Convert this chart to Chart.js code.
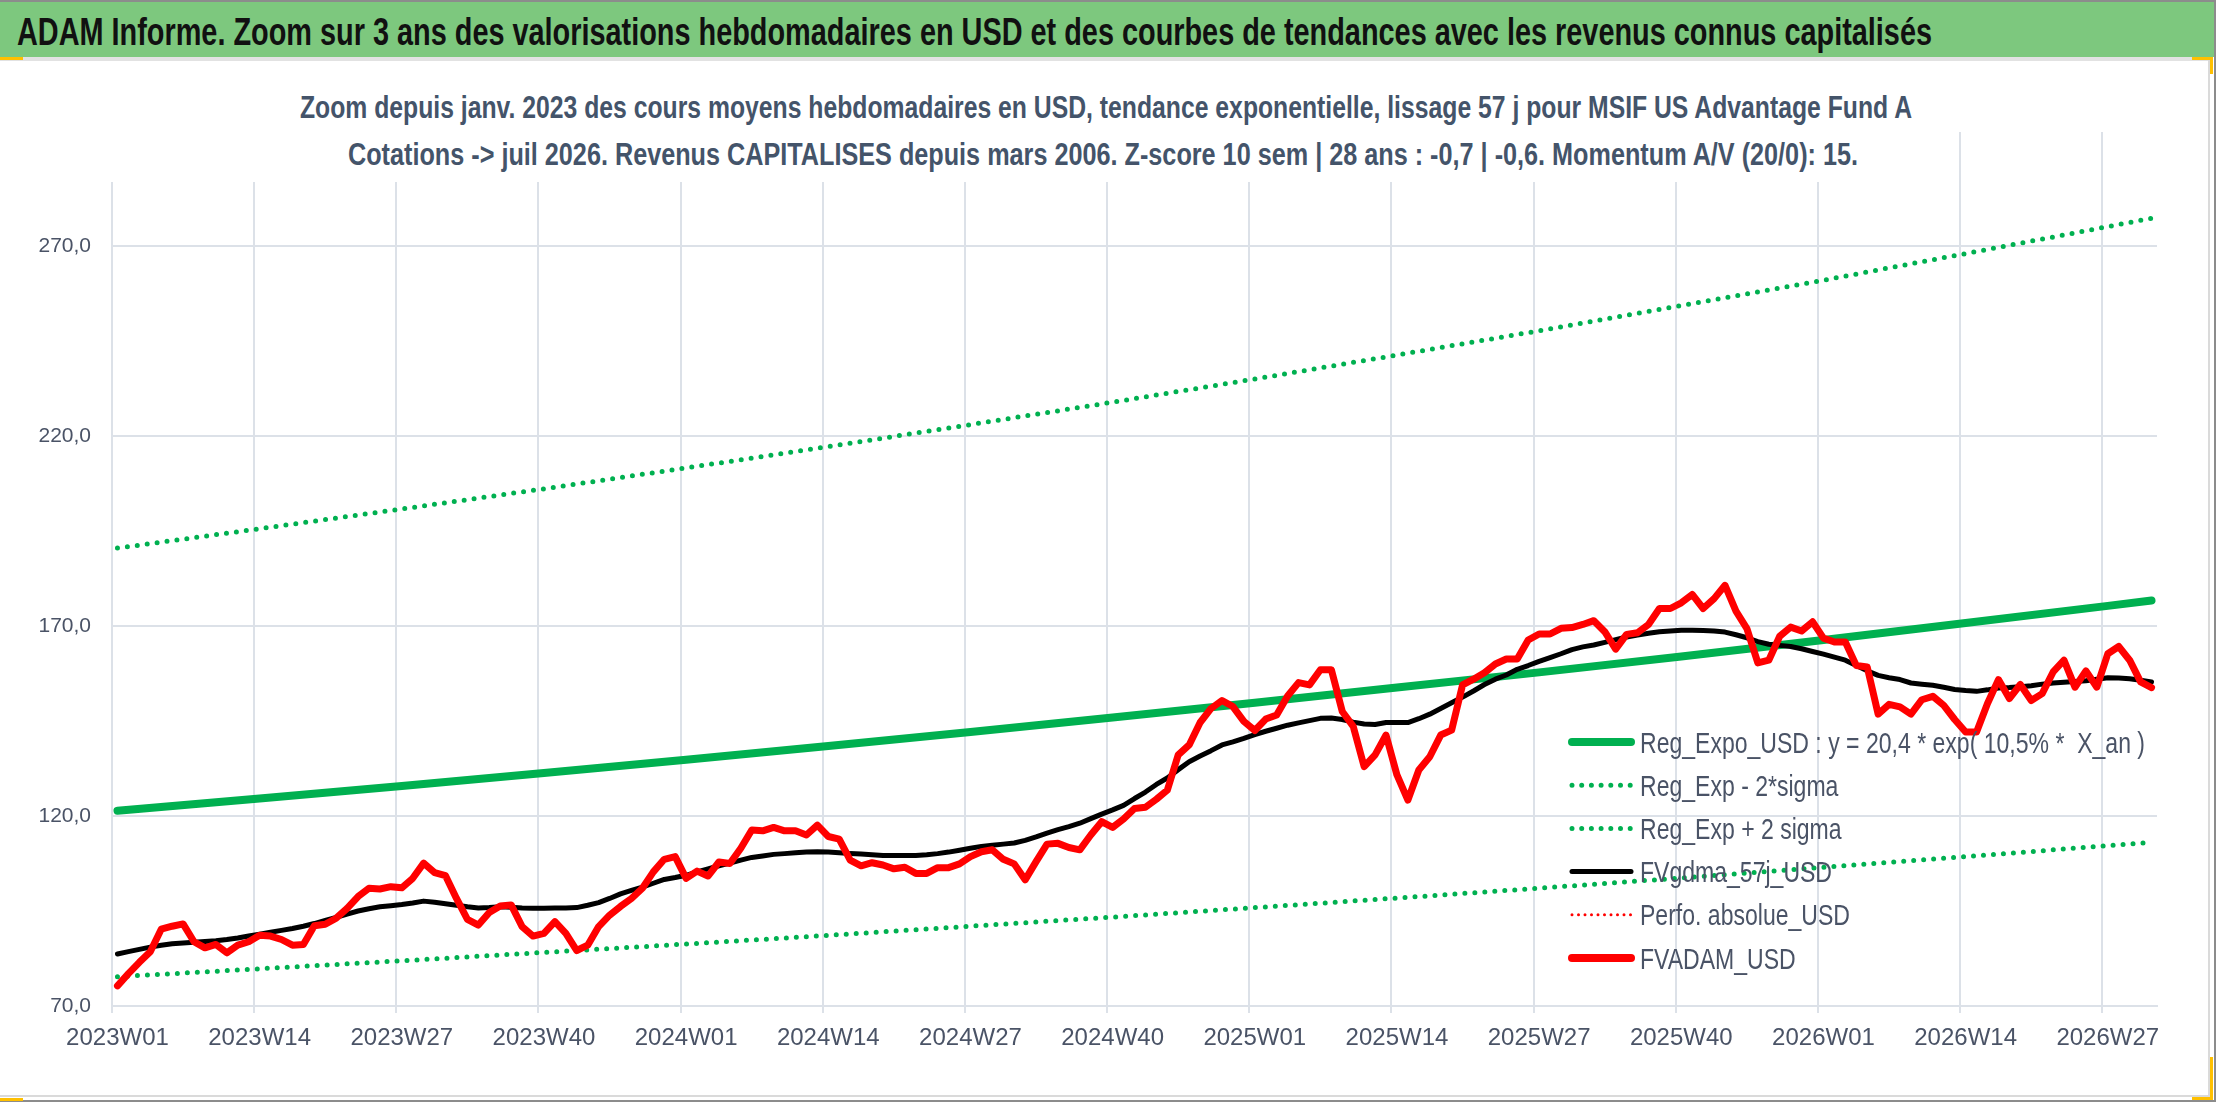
<!DOCTYPE html>
<html>
<head>
<meta charset="utf-8">
<script src="https://cdn.jsdelivr.net/npm/chart.js@4.4.1/dist/chart.umd.min.js"></script>
<style>
html,body{margin:0;padding:0;width:2216px;height:1102px;overflow:hidden;background:#fff;}
#chartbox{position:absolute;left:0;top:0;width:2216px;height:1102px;}
#banner{position:absolute;left:0;top:0;width:2214px;height:57px;background:#7DC87E;border-top:2px solid #8c8c8c;box-sizing:border-box;}
#underline{position:absolute;left:0;top:57px;width:2210px;height:4px;background:#e2e2e2;}
.txt{position:absolute;white-space:nowrap;transform-origin:0 0;line-height:1;}
#title{font-family:'Liberation Sans Narrow','Liberation Sans',Arial,sans-serif;font-weight:bold;font-size:38px;color:#111;left:17px;top:13px;}
.sub{font-family:'Liberation Sans Narrow','Liberation Sans',Arial,sans-serif;font-weight:bold;font-size:31px;color:#44546A;}
#subbox{position:absolute;left:60px;top:62px;width:1875px;height:120px;background:#fff;}
#rborder{position:absolute;left:2208px;top:60px;width:2px;height:1037px;background:#dadada;}
#bborder{position:absolute;left:0;top:1095px;width:2210px;height:2px;background:#dadada;}
#edgeR{position:absolute;left:2214px;top:0;width:2px;height:1102px;background:#8c8c8c;}
#edgeB{position:absolute;left:0;top:1100px;width:2216px;height:2px;background:#8c8c8c;}
.mark{position:absolute;background:#FFC000;}
</style>
</head>
<body>
<div id="chartbox"><canvas id="c" width="2216" height="1102"></canvas></div>
<div id="banner"></div>
<div id="underline"></div>
<div id="title" class="txt" data-w="1915">ADAM Informe. Zoom sur 3 ans des valorisations hebdomadaires en USD et des courbes de tendances avec les revenus connus capitalisés</div>
<div id="subbox"></div>
<div id="sub1" class="txt sub" data-w="1612" style="left:300px;top:92px;">Zoom depuis janv. 2023 des cours moyens hebdomadaires en USD, tendance exponentielle, lissage 57 j pour MSIF US Advantage Fund A</div>
<div id="sub2" class="txt sub" data-w="1510" style="left:348px;top:139px;">Cotations -&gt; juil 2026. Revenus CAPITALISES depuis mars 2006. Z-score 10 sem | 28 ans : -0,7 | -0,6. Momentum A/V (20/0): 15.</div>
<div id="rborder"></div>
<div id="bborder"></div>
<div id="edgeR"></div>
<div id="edgeB"></div>
<div class="mark" style="left:0;top:57px;width:23px;height:3px;"></div>
<div class="mark" style="left:2192px;top:57px;width:21px;height:3px;"></div>
<div class="mark" style="left:2210px;top:57px;width:3px;height:17px;"></div>
<div class="mark" style="left:2210px;top:1057px;width:3px;height:43px;"></div>
<div class="mark" style="left:2192px;top:1097px;width:21px;height:3px;"></div>
<div class="mark" style="left:0;top:1098px;width:23px;height:3px;"></div>
<script>
// ---------- DATA ----------
const years = [2023, 2024, 2025, 2026];
const weeksPerYear = [52, 52, 52, 31]; // last year: up to 2026W31

const fvadamUSD = [
75.3,78.5,81.5,84.3,90.2,91.0,91.6,86.9,85.3,86.2,
84.0,86.0,86.9,88.6,88.4,87.5,86.0,86.2,91.1,91.5,
93.1,95.7,98.8,101.0,100.8,101.4,101.1,103.6,107.6,105.1,
104.3,98.3,92.8,91.3,94.6,96.3,96.6,90.9,88.4,89.1,
92.2,89.1,84.6,86.0,90.9,93.9,96.2,98.3,101.0,105.3,
108.6,109.3,103.6,105.5,104.2,107.9,107.5,111.5,116.3,116.1,
117.0,116.1,116.1,115.0,117.6,114.6,113.9,108.4,106.9,107.7,
107.1,106.1,106.5,104.9,104.9,106.4,106.4,107.4,109.3,110.6,
111.1,108.6,107.4,103.2,108.0,112.6,112.8,111.7,111.1,115.0,
118.5,117.0,119.2,122.0,122.3,124.4,126.8,136.1,138.7,144.6,
148.3,150.4,148.8,144.9,142.5,145.5,146.6,151.6,155.1,154.5,
158.5,158.5,147.5,143.6,133.0,136.1,141.3,130.8,124.2,132.1,
135.6,141.3,142.6,154.5,156.0,157.7,160.0,161.3,161.3,166.3,
167.9,167.9,169.4,169.6,170.4,171.4,168.5,163.9,167.8,168.2,
170.4,174.6,174.6,176.1,178.3,174.6,177.2,180.7,173.9,169.3,
160.3,161.0,167.3,169.7,168.7,171.1,166.8,165.8,165.8,159.6,
159.2,146.8,149.4,148.7,146.8,150.6,151.5,149.1,145.4,142.1,
142.1,149.6,155.9,150.9,154.6,150.4,152.2,157.9,161.0,153.9,
158.2,153.9,162.7,164.6,161.0,155.3,153.8
];

const fvgdma57jUSD = [
83.7,84.3,84.9,85.5,86.0,86.4,86.6,86.8,87.0,87.2,
87.5,87.9,88.4,88.9,89.4,89.9,90.4,91.0,91.7,92.5,
93.3,94.2,95.0,95.6,96.1,96.4,96.7,97.1,97.6,97.3,
96.9,96.5,96.1,95.8,95.9,96.1,96.0,95.8,95.7,95.7,
95.8,95.8,95.9,96.5,97.2,98.3,99.5,100.4,101.3,102.3,
103.3,103.8,104.4,105.3,106.1,106.9,107.6,108.4,109.1,109.5,
109.9,110.1,110.3,110.5,110.6,110.5,110.3,110.1,110.0,109.8,
109.6,109.6,109.6,109.6,109.8,110.1,110.5,111.0,111.5,112.0,
112.3,112.6,112.9,113.6,114.5,115.5,116.4,117.2,118.1,119.3,
120.5,121.6,122.8,124.6,126.3,128.3,130.0,132.2,134.3,135.8,
137.2,138.7,139.5,140.4,141.4,142.3,143.1,143.9,144.5,145.1,
145.7,145.8,145.4,144.7,144.2,144.1,144.6,144.6,144.6,145.6,
146.8,148.3,149.8,151.3,152.9,154.6,156.0,157.1,158.6,159.6,
160.7,161.7,162.7,163.8,164.5,165.0,165.7,166.4,167.1,167.6,
168.1,168.5,168.7,168.9,168.9,168.8,168.7,168.4,167.7,166.9,
165.9,165.2,164.9,164.6,164.0,163.3,162.6,161.8,161.0,159.6,
158.2,157.0,156.4,155.9,155.0,154.7,154.4,153.9,153.3,153.0,
152.8,153.2,153.7,153.8,154.0,154.3,154.7,155.0,155.2,155.4,
155.6,156.0,156.4,156.3,156.1,155.7,155.3
];

// trend lines read at the quarterly gridlines (week index) and at the last week
const trendWeekIdx = [0, 13, 26, 39, 52, 65, 78, 91, 104, 117, 130, 143, 156, 169, 182, 186];
const regExpoUSD   = [121.4,124.6,127.9,131.3,134.8,138.4,142.1,145.9,149.8,153.8,157.8,162.0,166.3,170.8,175.3,176.7];
const regExpMinus2 = [77.7,79.8,81.9,84.1,86.3,88.6,91.0,93.4,95.9,98.4,101.0,103.7,106.5,109.3,112.2,113.1];
const regExpPlus2  = [190.5,195.6,200.8,206.1,211.6,217.2,223.0,228.9,235.0,241.3,247.7,254.3,261.0,268.0,275.1,277.3];
const perfoAbsolueUSD = []; // no visible points in this zoom

const yTickValues = [70, 120, 170, 220, 270];
const seriesNames = [
  'Reg_Expo_USD : y = 20,4 * exp( 10,5% *  X_an )',
  'Reg_Exp - 2*sigma',
  'Reg_Exp + 2 sigma',
  'FVgdma_57j_USD',
  'Perfo. absolue_USD',
  'FVADAM_USD'
];

// ---------- build ----------
const labels = [];
years.forEach((y, k) => {
  for (let w = 1; w <= weeksPerYear[k]; w++) labels.push(y + 'W' + String(w).padStart(2, '0'));
});
function sparse(idx, vals) {
  const arr = new Array(labels.length).fill(null);
  idx.forEach((i, k) => { arr[i] = vals[k]; });
  return arr;
}

const FONT = "'Liberation Sans Narrow','Liberation Sans',Arial,sans-serif";
const GRID = '#DCE1E8';
const TXT = '#4A5366';
const GREEN = '#00B050';

// fit HTML texts
document.querySelectorAll('.txt[data-w]').forEach(el => {
  const w = el.getBoundingClientRect().width;
  const t = parseFloat(el.dataset.w);
  el.style.transform = 'scaleX(' + (t / w) + ')';
});

const legendPlugin = {
  id: 'floatLegend',
  afterDatasetsDraw(chart) {
    const ctx = chart.ctx;
    const x0 = 1572, x1 = 1631, tx = 1640, yc0 = 742, dy = 43.2;
    ctx.save();
    ctx.font = '30px ' + FONT;
    const nat = ctx.measureText(chart.data.datasets[0].label).width;
    const sx = 505 / nat;
    chart.data.datasets.forEach((ds, k) => {
      const y = yc0 + k * dy;
      ctx.save();
      ctx.beginPath();
      ctx.strokeStyle = ds.borderColor;
      ctx.lineWidth = ds.legendWidth || ds.borderWidth;
      ctx.lineCap = 'round';
      ctx.setLineDash(ds.legendDash || []);
      ctx.moveTo(x0, y); ctx.lineTo(x1, y);
      ctx.stroke();
      ctx.restore();
      ctx.save();
      ctx.translate(tx, y + 10.5);
      ctx.scale(sx, 1);
      ctx.fillStyle = TXT;
      ctx.textBaseline = 'alphabetic';
      ctx.textAlign = 'left';
      ctx.fillText(ds.label, 0, 0);
      ctx.restore();
    });
    ctx.restore();
  }
};

new Chart(document.getElementById('c'), {
  type: 'line',
  data: {
    labels: labels,
    datasets: [
      { label: seriesNames[0], data: sparse(trendWeekIdx, regExpoUSD), borderColor: GREEN, borderWidth: 8,
        borderCapStyle: 'round', borderJoinStyle: 'round', spanGaps: true, order: 2, legendWidth: 8 },
      { label: seriesNames[1], data: sparse(trendWeekIdx, regExpMinus2), borderColor: GREEN, borderWidth: 5,
        borderDash: [0, 10], borderCapStyle: 'round', spanGaps: true, order: 3, legendDash: [0, 9.7] },
      { label: seriesNames[2], data: sparse(trendWeekIdx, regExpPlus2), borderColor: GREEN, borderWidth: 5,
        borderDash: [0, 10], borderCapStyle: 'round', spanGaps: true, order: 3, legendDash: [0, 9.7] },
      { label: seriesNames[3], data: fvgdma57jUSD, borderColor: '#000000', borderWidth: 5,
        borderCapStyle: 'round', borderJoinStyle: 'round', order: 1 },
      { label: seriesNames[4], data: perfoAbsolueUSD, borderColor: '#FF0000', borderWidth: 3,
        borderDash: [0, 6.5], borderCapStyle: 'round', order: 0, legendDash: [0, 6.5], legendWidth: 3 },
      { label: seriesNames[5], data: fvadamUSD, borderColor: '#FF0000', borderWidth: 7,
        borderCapStyle: 'round', borderJoinStyle: 'round', order: 0, legendWidth: 8 }
    ]
  },
  options: {
    responsive: false,
    animation: false,
    devicePixelRatio: 1,
    layout: { padding: { left: 0, right: 59, top: 132, bottom: 0 } },
    elements: { point: { radius: 0, hoverRadius: 0 }, line: { tension: 0 } },
    plugins: { legend: { display: false }, tooltip: { enabled: false }, title: { display: false } },
    scales: {
      x: {
        type: 'category',
        offset: true,
        afterFit: s => { s.height = 96; },
        grid: {
          offset: true,
          lineWidth: 2,
          tickLength: 7,
          color: c => (c.index % 13 === 0 ? GRID : 'rgba(0,0,0,0)'),
          tickColor: c => (c.index % 13 === 0 ? GRID : 'rgba(0,0,0,0)')
        },
        border: { display: true, color: GRID, width: 2 },
        ticks: {
          autoSkip: false, maxRotation: 0, minRotation: 0, padding: 11,
          color: TXT, font: { family: FONT, size: 24 },
          callback: (v, i) => (i % 13 === 0 ? labels[i] : '')
        }
      },
      y: {
        min: 70, max: 300,
        afterFit: s => { s.width = 112; },
        afterBuildTicks: s => { s.ticks = yTickValues.map(v => ({ value: v })); },
        grid: { lineWidth: 2, color: GRID, drawTicks: false },
        border: { display: false },
        ticks: {
          padding: 21, color: TXT, font: { family: FONT, size: 21 },
          callback: v => v.toFixed(1).replace('.', ',')
        }
      }
    }
  },
  plugins: [legendPlugin]
});
</script>
</body>
</html>
